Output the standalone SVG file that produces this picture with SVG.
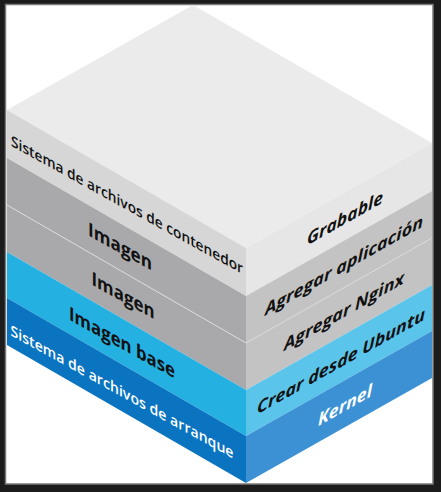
<svg xmlns="http://www.w3.org/2000/svg" width="441" height="492" viewBox="0 0 441 492">
  <style>
    .lt { font-family: "Open Sans", "Liberation Sans", sans-serif; font-weight: 600; fill: #111; }
    .lb { font-family: "Open Sans", "Liberation Sans", sans-serif; font-weight: 700; fill: #111; }
    .rt { font-family: "Open Sans", "Liberation Sans", sans-serif; font-weight: 700; font-style: italic; fill: #111; }
    .w { fill: #ffffff; }
    .div { stroke: #dadada; stroke-width: 1; fill: none; }
  </style>
  <!-- frame -->
  <rect x="0" y="0" width="441" height="492" fill="#1c1c1c"/>
  <rect x="5.5" y="4.5" width="427.5" height="479.5" fill="#ffffff" stroke="#7a7a7a" stroke-width="1.5"/>

  <g id="layer-top">
    <polygon points="193,5 432,143 246,248 7,110" fill="#ebebeb"/>
  </g>

  <g id="layer-contenedor">
    <polygon points="7,110 246,248 246,296 7,158" fill="#d6d6d6"/>
    <polygon points="246,248 432,143 432,191 246,296" fill="#e6e6e6"/>
    <text class="lt" font-size="15" text-anchor="middle" textLength="232" lengthAdjust="spacingAndGlyphs" transform="translate(127,210) skewY(29)">Sistema de archivos de contenedor</text>
    <text class="rt" font-size="17" text-anchor="middle" textLength="76" lengthAdjust="spacingAndGlyphs" transform="translate(345,224) skewY(-29.5)">Grabable</text>
  </g>

  <g id="layer-imagen-app">
    <polygon points="7,158 246,296 246,343 7,205" fill="#a9a9ab"/>
    <polygon points="246,296 432,191 432,238 246,343" fill="#c3c3c3"/>
    <text class="lb" font-size="19" text-anchor="middle" textLength="64" lengthAdjust="spacingAndGlyphs" transform="translate(120,253) skewY(29)">Imagen</text>
    <text class="rt" font-size="16.5" text-anchor="middle" textLength="158" lengthAdjust="spacingAndGlyphs" transform="translate(344,271) skewY(-29.5)">Agregar aplicación</text>
  </g>

  <g id="layer-imagen-nginx">
    <polygon points="7,205 246,343 246,390 7,252" fill="#a9a9ab"/>
    <polygon points="246,343 432,238 432,285 246,390" fill="#c3c3c3"/>
    <polyline class="div" points="7,205 246,343 432,238"/>
    <text class="lb" font-size="19" text-anchor="middle" textLength="63" lengthAdjust="spacingAndGlyphs" transform="translate(123,302) skewY(29)">Imagen</text>
    <text class="rt" font-size="16.5" text-anchor="middle" textLength="120" lengthAdjust="spacingAndGlyphs" transform="translate(344,317) skewY(-29.5)">Agregar Nginx</text>
  </g>

  <g id="layer-imagen-base">
    <polygon points="7,252 246,390 246,436 7,298" fill="#25b0e2"/>
    <polygon points="246,390 432,285 432,331 246,436" fill="#5bc4ea"/>
    <text class="lb" font-size="19" text-anchor="middle" textLength="106" lengthAdjust="spacingAndGlyphs" transform="translate(122,349) skewY(29)">Imagen base</text>
    <text class="rt" font-size="16.5" text-anchor="middle" textLength="168" lengthAdjust="spacingAndGlyphs" transform="translate(341,367) skewY(-29.5)">Crear desde Ubuntu</text>
  </g>

  <g id="layer-arranque">
    <polygon points="7,298 246,436 246,483 7,345" fill="#0a74c1"/>
    <polygon points="246,436 432,331 432,378 246,483" fill="#3b91d4"/>
    <text class="lt w" font-size="15" text-anchor="middle" textLength="223" lengthAdjust="spacingAndGlyphs" transform="translate(122,397) skewY(29)">Sistema de archivos de arranque</text>
    <text class="rt w" font-size="17" text-anchor="middle" textLength="54" lengthAdjust="spacingAndGlyphs" transform="translate(345,411) skewY(-29.5)">Kernel</text>
  </g>

  <g id="connectors"></g>
</svg>
